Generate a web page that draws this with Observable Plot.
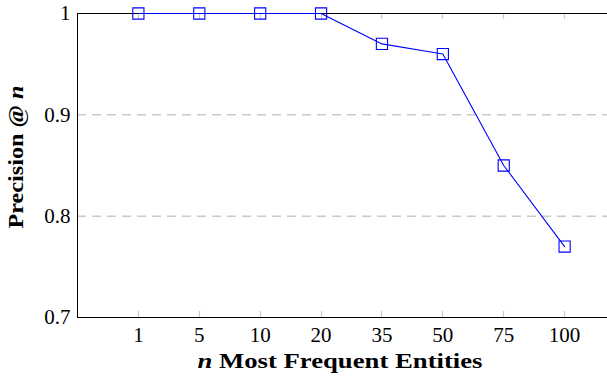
<!DOCTYPE html>
<html>
<head>
<meta charset="utf-8">
<script src="https://cdn.jsdelivr.net/npm/d3@7"></script>
<script src="https://cdn.jsdelivr.net/npm/@observablehq/plot@0.6"></script>
<style>
  html, body { margin: 0; padding: 0; background: white; }
  #chart { width: 607px; height: 377px; overflow: hidden; }
</style>
</head>
<body>
<div id="chart"></div>
<script>
const categories = ["1", "5", "10", "20", "35", "50", "75", "100"];
const precision = [1, 1, 1, 1, 0.97, 0.96, 0.85, 0.77];
const yTicks = [0.7, 0.8, 0.9, 1];
const gridValues = [0.8, 0.9];
const xLabel = ["n", " Most Frequent Entities"];
const yLabel = ["Precision @ ", "n"];

const data = categories.map((c, i) => ({ n: c, p: precision[i] }));
const font = "'Liberation Serif', 'DejaVu Serif', serif";

const plot = Plot.plot({
  width: 607,
  height: 377,
  marginLeft: 77,
  marginRight: 0,
  marginTop: 13,
  marginBottom: 60,
  style: { fontFamily: font, fontSize: "21px", background: "white", color: "black", overflow: "visible" },
  x: { type: "point", domain: categories, range: [77, 625], padding: 1, round: false },
  y: { domain: [0.7, 1] },
  marks: [
    Plot.gridY(gridValues, { stroke: "#b0b0b0", strokeOpacity: 1, strokeDasharray: "9,6" }),
    Plot.axisY(yTicks, { tickSize: 0, tickPadding: 7, label: null, fontSize: 21,
      tickFormat: d => d === 1 ? "1" : d.toFixed(1) }),
    Plot.axisX({ tickSize: 0, tickPadding: 10, label: null, fontSize: 21 }),
    Plot.ruleY([0.7, 1], { stroke: "black", strokeWidth: 1 }),
    Plot.line(data, { x: "n", y: "p", stroke: "#0000ff", strokeWidth: 1.1 }),
    Plot.dot(data, { x: "n", y: "p", symbol: "square", r: 6.3, stroke: "#0000ff", fill: "none", strokeWidth: 1.1 })
  ]
});

const svg = d3.select(plot);
const xs = plot.scale("x");
const ys = plot.scale("y");
const y0 = ys.apply(0.7), y1 = ys.apply(1);
const ticks = svg.insert("g", ":first-child").attr("stroke", "#c8c8c8").attr("stroke-width", 1.2);
categories.forEach(c => {
  const x = Math.round(xs.apply(c)) + 0.5;
  ticks.append("line").attr("x1", x).attr("x2", x).attr("y1", y0).attr("y2", y0 - 6);
  ticks.append("line").attr("x1", x).attr("x2", x).attr("y1", y1).attr("y2", y1 + 6);
});
svg.append("line").attr("x1", 77.5).attr("x2", 77.5).attr("y1", y1).attr("y2", y0)
  .attr("stroke", "black").attr("stroke-width", 1);

const xl = svg.append("text").attr("x", 340).attr("y", 368).attr("text-anchor", "middle")
  .attr("font-family", font).attr("font-size", 21).attr("font-weight", "bold").attr("fill", "black")
  .attr("textLength", 285).attr("lengthAdjust", "spacingAndGlyphs");
xl.append("tspan").attr("font-style", "italic").text(xLabel[0]);
xl.append("tspan").text(xLabel[1]);

const yl = svg.append("text").attr("transform", "translate(23,157) rotate(-90)").attr("text-anchor", "middle")
  .attr("font-family", font).attr("font-size", 21).attr("font-weight", "bold").attr("fill", "black")
  .attr("textLength", 143).attr("lengthAdjust", "spacingAndGlyphs");
yl.append("tspan").text(yLabel[0]);
yl.append("tspan").attr("font-style", "italic").text(yLabel[1]);

document.getElementById("chart").append(plot);
</script>
</body>
</html>
